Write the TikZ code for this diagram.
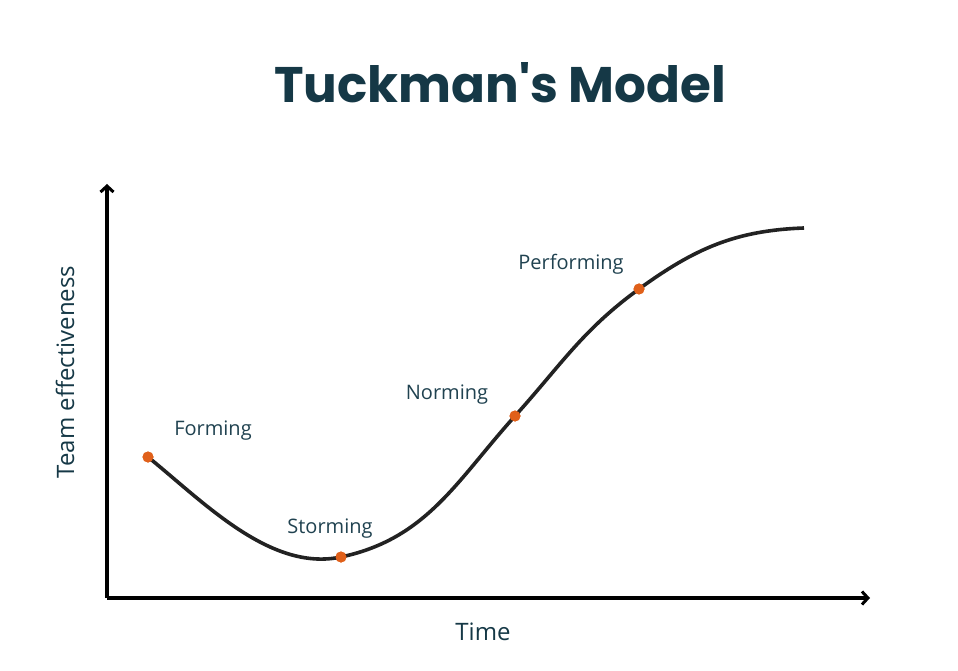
\documentclass[tikz,border=0pt]{standalone}
\usepackage{fontspec}
\setmainfont{Open Sans}
\newfontfamily\titlefont{Poppins}
\usetikzlibrary{arrows.meta, positioning}
\definecolor{titleteal}{RGB}{21, 56, 70}
\definecolor{labelteal}{RGB}{32, 66, 80}
\definecolor{stagedot}{RGB}{224, 96, 26}
\definecolor{curveblack}{RGB}{34, 34, 34}

\begin{document}
\begin{tikzpicture}[
  x=1pt, y=1pt,
  axisline/.style={line width=3.4pt, -{Straight Barb[length=6pt, width=13pt, line width=3pt]}},
  stagedot/.style={circle, fill=stagedot, inner sep=0pt, minimum size=11pt},
  stagelabel/.style={text=labelteal, font=\fontsize{20}{24}\selectfont, inner sep=0pt},
  axislabel/.style={text=titleteal, font=\fontsize{24}{28}\selectfont, inner sep=0pt}
]
  \useasboundingbox (0,0) rectangle (958,670);

  % Title
  \node[text=titleteal, font=\titlefont\bfseries\fontsize{50}{58}\selectfont] (title) at (500,587) {Tuckman's Model};

  % Axes
  \coordinate (origin) at (107,72);
  \coordinate (ytop) at (107,486);
  \coordinate (xend) at (870,72);
  \draw[axisline] (origin) -- (ytop);
  \draw[axisline] (origin) -- (xend);
  \node[axislabel] (timelabel) at (483,38) {Time};
  \node[axislabel, rotate=90] (efflabel) at (65,298) {Team effectiveness};

  % Stages
  \node[stagedot] (forming) at (148,213) {};
  \node[stagedot] (storming) at (341,113) {};
  \node[stagedot] (norming) at (515,254) {};
  \node[stagedot] (performing) at (639,381) {};
  \coordinate (plateau) at (804,442);

  % Curve
  \draw[curveblack, line width=3.6pt]
    (forming.center) to[out=-39, in=192, looseness=0.85] (storming.center)
    to[out=12, in=228] (norming.center)
    to[out=48, in=216] (performing.center)
    to[out=36, in=182] (plateau);
  \foreach \s in {forming, storming, norming, performing}
    \node[stagedot] at (\s) {};

  % Stage labels
  \node[stagelabel] (formlabel) at (213,239) {Forming};
  \node[stagelabel] (stormlabel) at (330,141) {Storming};
  \node[stagelabel] (normlabel) at (447,275) {Norming};
  \node[stagelabel] (perflabel) at (571,406) {Performing};
\end{tikzpicture}
\end{document}
